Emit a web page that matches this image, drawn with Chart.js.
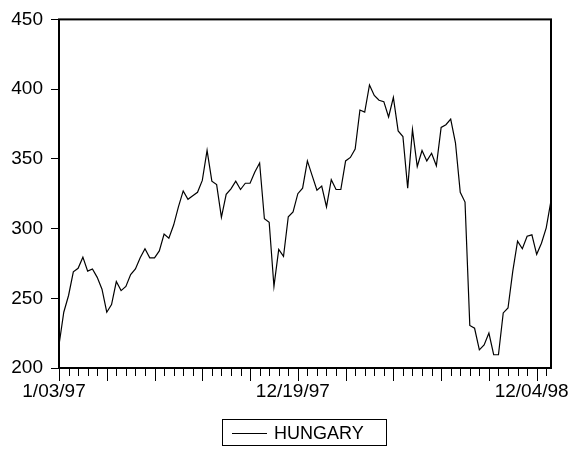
<!DOCTYPE html>
<html>
<head>
<meta charset="utf-8">
<script src="https://cdn.jsdelivr.net/npm/chart.js@4"></script>
<style>
    body{margin:0;background:#fff;}
    #wrap{position:relative;width:571px;height:450px;}
    #legend{position:absolute;left:222px;top:419px;width:163px;height:25px;border:1px solid #000;
        font-family:"Liberation Sans",Arial,sans-serif;font-size:18px;color:#000;}
    #legend .ln{position:absolute;left:9px;top:13px;width:35px;height:0;border-top:1px solid #000;}
    #legend .tx{position:absolute;left:51px;top:2px;line-height:22px;}
</style>
</head>
<body>
<div id="wrap">
    <canvas id="myChart" width="571" height="450"></canvas>
    <div id="legend"><span class="ln"></span><span class="tx">HUNGARY</span></div>
</div>
<script>
const dates=[
    "1/03/97","1/10/97","1/17/97","1/24/97","1/31/97","2/07/97","2/14/97","2/21/97","2/28/97",
    "3/07/97","3/14/97","3/21/97","3/28/97","4/04/97","4/11/97","4/18/97","4/25/97",
    "5/02/97","5/09/97","5/16/97","5/23/97","5/30/97","6/06/97","6/13/97","6/20/97","6/27/97",
    "7/04/97","7/11/97","7/18/97","7/25/97","8/01/97","8/08/97","8/15/97","8/22/97","8/29/97",
    "9/05/97","9/12/97","9/19/97","9/26/97","10/03/97","10/10/97","10/17/97","10/24/97","10/31/97",
    "11/07/97","11/14/97","11/21/97","11/28/97","12/05/97","12/12/97","12/19/97","12/26/97",
    "1/02/98","1/09/98","1/16/98","1/23/98","1/30/98","2/06/98","2/13/98","2/20/98","2/27/98",
    "3/06/98","3/13/98","3/20/98","3/27/98","4/03/98","4/10/98","4/17/98","4/24/98",
    "5/01/98","5/08/98","5/15/98","5/22/98","5/29/98","6/05/98","6/12/98","6/19/98","6/26/98",
    "7/03/98","7/10/98","7/17/98","7/24/98","7/31/98","8/07/98","8/14/98","8/21/98","8/28/98",
    "9/04/98","9/11/98","9/18/98","9/25/98","10/02/98","10/09/98","10/16/98","10/23/98","10/30/98",
    "11/06/98","11/13/98","11/20/98","11/27/98","12/04/98","12/11/98","12/18/98","12/25/98"
];
const hungary=[
    216.5,240,252,269,271.5,279.5,269.5,271,265,256.5,
    240,245.5,262,255.5,258.5,267,271,279,285.5,279,
    279,284,296,293,302.5,315.5,327,321,323.5,326,
    334.5,356,334,331.5,308,324.5,328.5,334,328,332.5,
    332.5,340.5,347,307,304.5,258.5,285,280,308.5,312,
    325,329,348.5,338,327.5,330.5,315.5,335,328,328,
    348.5,351,357,385,383.5,403,395.5,392,391,380,
    394,370,366,329,371,344.5,356,348.5,354,345,
    372.5,374.5,378.5,361.5,326,319,230.5,228.5,213,216.5,
    225,209.5,209.5,239.5,243,269.5,291,285.5,294.5,295.5,
    281.5,289.5,300.5,320
];
const tickLabels=["1/03/97","12/19/97","12/04/98"];
const yTicks=[200,250,300,350,400,450];

const font={family:"'Liberation Sans', Arial, sans-serif",size:19};

// frame + date ticks like the original
const framePlugin={
    id:"frame",
    afterDraw(chart){
        let ctx=chart.ctx;
        let a=chart.chartArea;
        let x=chart.scales.x;
        ctx.save();
        ctx.strokeStyle="#000";
        ctx.lineWidth=1;
        for(let i=0;i<dates.length;i+=2){
            let px=Math.round(x.getPixelForValue(i))+0.5;
            let len=(i%10==0)?13:8;
            ctx.beginPath();
            ctx.moveTo(px,a.bottom);
            ctx.lineTo(px,a.bottom+len);
            ctx.stroke();
        }
        ctx.lineWidth=2;
        ctx.strokeRect(a.left,a.top,a.right-a.left,a.bottom-a.top);
        ctx.restore();
    }
};

new Chart(document.getElementById("myChart"),{
    type:"line",
    data:{
        labels:dates,
        datasets:[{
            label:"HUNGARY",
            data:hungary,
            borderColor:"#000",
            borderWidth:1.2,
            pointRadius:0,
            tension:0,
            fill:false
        }]
    },
    options:{
        responsive:false,
        animation:false,
        devicePixelRatio:1,
        layout:{padding:{top:15,right:20,left:0,bottom:0}},
        plugins:{legend:{display:false},tooltip:{enabled:false}},
        scales:{
            x:{
                type:"category",
                offset:false,
                grid:{display:false,drawTicks:false,tickLength:0},
                border:{display:false},
                ticks:{
                    autoSkip:false,
                    maxRotation:0,
                    minRotation:0,
                    padding:12,
                    labelOffset:-5,
                    color:"#000",
                    font:font,
                    callback:function(v,i){
                        let d=dates[i];
                        return tickLabels.indexOf(d)>=0?d:"";
                    }
                },
                afterFit:function(s){s.height=82;}
            },
            y:{
                min:200,
                max:450,
                afterBuildTicks:function(s){s.ticks=yTicks.map(v=>({value:v}));},
                grid:{drawOnChartArea:false,drawTicks:true,tickLength:8,color:"#000",lineWidth:1},
                border:{display:false},
                ticks:{padding:8,color:"#000",font:font},
                afterFit:function(s){s.width=59;}
            }
        }
    },
    plugins:[framePlugin]
});
</script>
</body>
</html>
